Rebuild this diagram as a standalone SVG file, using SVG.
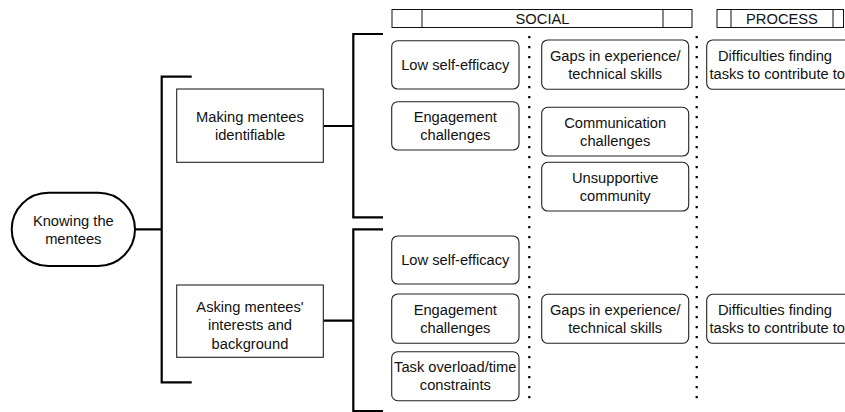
<svg xmlns="http://www.w3.org/2000/svg" width="845" height="412" viewBox="0 0 845 412">
<style>
text{font-family:"Liberation Sans",Arial,sans-serif;font-size:14.7px;fill:#111;text-anchor:middle}
.box{fill:#fff;stroke:#222;stroke-width:1.1}
.sec{fill:#fff;stroke:#222;stroke-width:1.1}
.hdr{fill:#fff;stroke:#111;stroke-width:1}
.br{fill:none;stroke:#000;stroke-width:2.2}
.dot{fill:none;stroke:#000;stroke-width:2.2;stroke-dasharray:2.2 7.8}
.term{fill:#fff;stroke:#000;stroke-width:2}
.st{text-anchor:start}
</style>
<rect width="845" height="412" fill="#fff"/>
<g id="headers">
<g id="header-social">
<rect class="hdr" x="392" y="9.5" width="300" height="18"/>
<line class="hdr" x1="422" y1="9.5" x2="422" y2="27.5"/>
<line class="hdr" x1="663" y1="9.5" x2="663" y2="27.5"/>
<text x="542.5" y="23.5">SOCIAL</text>
</g>
<g id="header-process">
<rect class="hdr" x="717" y="9.5" width="126.5" height="18"/>
<line class="hdr" x1="731" y1="9.5" x2="731" y2="27.5"/>
<line class="hdr" x1="833" y1="9.5" x2="833" y2="27.5"/>
<text x="782" y="23.5">PROCESS</text>
</g>
</g>
<g id="connectors">
<path class="br" d="M135 229.3H161.7M191.7 76.7H161.7V382.3H191.7"/>
<path class="br" d="M323.3 126H353.3M383 34H353.3V217.3H383"/>
<path class="br" d="M323.3 320.7H353.3M383 229.3H353.3V411H383"/>
<line class="dot" x1="529.3" y1="36" x2="529.3" y2="401"/>
<line class="dot" x1="696.7" y1="36" x2="696.7" y2="401"/>
</g>
<g id="root">
<rect class="term" x="11.7" y="192.7" width="123.3" height="73.3" rx="36.7" ry="36.7"/>
<text x="73.3" y="225.5">Knowing the</text>
<text x="73.3" y="244">mentees</text>
</g>
<g id="making">
<rect class="sec" x="176.7" y="89" width="146.6" height="73.3"/>
<text x="250" y="121.7">Making mentees</text>
<text x="250" y="140.2">identifiable</text>
</g>
<g id="asking">
<rect class="sec" x="176.7" y="285" width="146.6" height="72.3"/>
<text x="250" y="311.5">Asking mentees'</text>
<text x="250" y="330">interests and</text>
<text x="250" y="348.5">background</text>
</g>
<g id="m-low">
<rect class="box" x="391.7" y="40.7" width="127.3" height="48.3" rx="6"/>
<text x="455.3" y="70">Low self-efficacy</text>
</g>
<g id="m-engagement">
<rect class="box" x="391.7" y="101.7" width="127.3" height="48.3" rx="6"/>
<text x="455.3" y="121.7">Engagement</text>
<text x="455.3" y="140.2">challenges</text>
</g>
<g id="m-gaps">
<rect class="box" x="541.7" y="40" width="147" height="49.3" rx="6"/>
<text x="615.2" y="60.5">Gaps in experience/</text>
<text x="615.2" y="79">technical skills</text>
</g>
<g id="m-communication">
<rect class="box" x="541.7" y="107.3" width="147" height="48.7" rx="6"/>
<text x="615.2" y="127.5">Communication</text>
<text x="615.2" y="146">challenges</text>
</g>
<g id="m-unsupportive">
<rect class="box" x="541.7" y="162.3" width="147" height="48.7" rx="6"/>
<text x="615.2" y="182.5">Unsupportive</text>
<text x="615.2" y="201">community</text>
</g>
<g id="m-difficulties">
<rect class="box" x="706.7" y="40" width="150" height="49.3" rx="6"/>
<text x="775" y="60.5">Difficulties finding</text>
<text class="st" x="709.5" y="79">tasks to contribute to</text>
</g>
<g id="a-low">
<rect class="box" x="391.7" y="236" width="127.3" height="48" rx="6"/>
<text x="455.3" y="265">Low self-efficacy</text>
</g>
<g id="a-engagement">
<rect class="box" x="391.7" y="294" width="127.3" height="49.3" rx="6"/>
<text x="455.3" y="314.5">Engagement</text>
<text x="455.3" y="333">challenges</text>
</g>
<g id="a-task">
<rect class="box" x="391.7" y="351.7" width="127.3" height="49" rx="6"/>
<text x="455.3" y="371.7">Task overload/time</text>
<text x="455.3" y="390">constraints</text>
</g>
<g id="a-gaps">
<rect class="box" x="541.7" y="294.3" width="147" height="49" rx="6"/>
<text x="615.2" y="314.5">Gaps in experience/</text>
<text x="615.2" y="333">technical skills</text>
</g>
<g id="a-difficulties">
<rect class="box" x="706.7" y="294.3" width="150" height="49" rx="6"/>
<text x="775" y="314.5">Difficulties finding</text>
<text class="st" x="709.5" y="333">tasks to contribute to</text>
</g>
</svg>
